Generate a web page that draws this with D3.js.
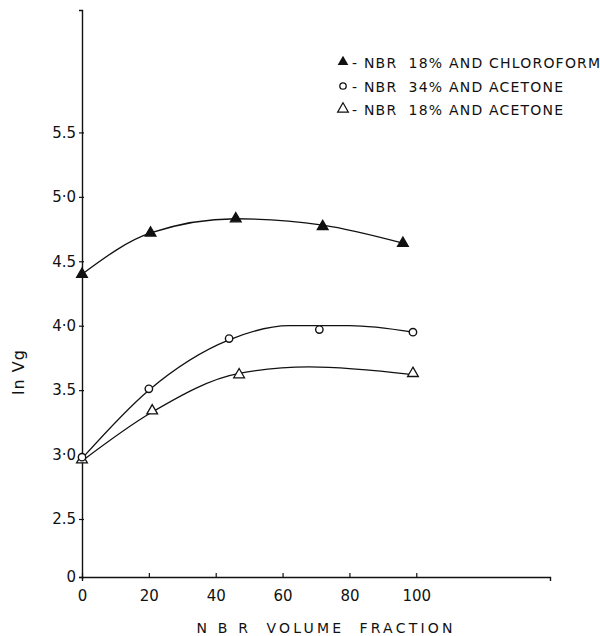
<!DOCTYPE html>
<html>
<head>
<meta charset="utf-8">
<script src="https://cdn.jsdelivr.net/npm/d3@7"></script>
<style>
  body { margin: 0; background: #fff; }
  svg text { font-family: "DejaVu Sans", sans-serif; fill: #111; }
</style>
</head>
<body>
<svg id="chart" width="600" height="636"></svg>
<script>
// data (NBR volume fraction, ln Vg)
var chloroX = [0, 20.5, 46, 72, 96];
var chloroY = [4.40, 4.72, 4.83, 4.77, 4.64];
var ace34X = [0, 20, 44, 71, 99];
var ace34Y = [2.98, 3.51, 3.90, 3.97, 3.95];
var ace18X = [0, 21, 47, 99];
var ace18Y = [2.96, 3.34, 3.62, 3.63];

// hand drawn fitted curves, knots
var chloroFitX = [0, 20.5, 46, 72, 96];
var chloroFitY = [4.40, 4.72, 4.83, 4.78, 4.64];
var ace34FitX = [0, 20, 44, 62, 80, 99];
var ace34FitY = [2.97, 3.50, 3.89, 4.00, 4.00, 3.95];
var ace18FitX = [0, 21, 47, 68, 99];
var ace18FitY = [2.95, 3.33, 3.63, 3.68, 3.62];

var xTicks = [0, 20, 40, 60, 80, 100];
var yTicks = [0, 2.5, 3.0, 3.5, 4.0, 4.5, 5.0, 5.5];
var yTickLabels = ['0', '2.5', '3\u00b70', '3.5', '4\u00b70', '4.5', '5\u00b70', '5.5'];

var legendLabels = ['- NBR  18% AND CHLOROFORM', '- NBR  34% AND ACETONE', '- NBR  18% AND ACETONE'];

var svg = d3.select('#chart');

//scales: y axis is broken between 0 and 2.5
var x = d3.scaleLinear().domain([0, 140]).range([82, 550]);
var y = d3.scaleLinear().domain([0, 2.5, 6.45]).range([577, 519, 10]);

//x axis
var xAxis = svg.append('g')
    .attr('transform', 'translate(0,' + y(0) + ')')
    .call(d3.axisBottom(x).tickValues(xTicks).tickSizeOuter(0).tickSize(4).tickPadding(9));
xAxis.selectAll('.tick line').attr('y1', -4).attr('y2', 0);
xAxis.selectAll('text').style('font-size', '15px');

//y axis
var yAxis = svg.append('g')
    .attr('transform', 'translate(' + x(0) + ',0)')
    .call(d3.axisLeft(y).tickValues(yTicks).tickSizeOuter(0).tickSize(3).tickPadding(3)
        .tickFormat(function (d, i) { return yTickLabels[i]; }));
yAxis.selectAll('.tick line').attr('x1', 2);
yAxis.selectAll('text').style('font-size', '15px');
svg.selectAll('.domain').attr('stroke', '#111').attr('stroke-width', 1.4);
svg.selectAll('.tick line').attr('stroke', '#111').attr('stroke-width', 1.2);

//axis titles
svg.append('text')
    .attr('x', 326)
    .attr('y', 633)
    .attr('text-anchor', 'middle')
    .style('font-size', '14px')
    .style('letter-spacing', '3.2px')
    .style('white-space', 'pre')
    .text('N B R  VOLUME  FRACTION');
svg.append('text')
    .attr('transform', 'translate(24,372) rotate(-90)')
    .attr('text-anchor', 'middle')
    .style('font-size', '16px')
    .style('letter-spacing', '1px')
    .text('ln Vg');

//fitted curves
var line = d3.line()
    .x(function (d) { return x(d[0]); })
    .y(function (d) { return y(d[1]); })
    .curve(d3.curveMonotoneX);

[[chloroFitX, chloroFitY], [ace34FitX, ace34FitY], [ace18FitX, ace18FitY]].forEach(function (s) {
    svg.append('path')
        .datum(d3.zip(s[0], s[1]))
        .attr('d', line)
        .attr('fill', 'none')
        .attr('stroke', '#111')
        .attr('stroke-width', 1.3);
});

//markers
var tri = d3.symbol().type(d3.symbolTriangle).size(50);

function drawTriangles(xs, ys, filled) {
    svg.append('g').selectAll('path')
        .data(d3.zip(xs, ys))
        .join('path')
        .attr('d', tri)
        .attr('transform', function (d) { return 'translate(' + x(d[0]) + ',' + y(d[1]) + ')'; })
        .attr('fill', filled ? '#111' : '#fff')
        .attr('stroke', '#111')
        .attr('stroke-width', 1.3);
}
drawTriangles(ace18X, ace18Y, false);
svg.append('g').selectAll('circle')
    .data(d3.zip(ace34X, ace34Y))
    .join('circle')
    .attr('cx', function (d) { return x(d[0]); })
    .attr('cy', function (d) { return y(d[1]); })
    .attr('r', 3.7)
    .attr('fill', '#fff')
    .attr('stroke', '#111')
    .attr('stroke-width', 1.4);
drawTriangles(chloroX, chloroY, true);

//legend
var legend = svg.append('g').attr('transform', 'translate(343,0)');
var legendY = [63, 87, 110];
legend.append('path').attr('d', tri).attr('transform', 'translate(0,' + (legendY[0] - 1) + ')').attr('fill', '#111');
legend.append('circle').attr('cx', 0).attr('cy', legendY[1] - 1).attr('r', 3.2)
    .attr('fill', '#fff').attr('stroke', '#111').attr('stroke-width', 1.3);
legend.append('path').attr('d', tri).attr('transform', 'translate(0,' + (legendY[2] - 1) + ')')
    .attr('fill', '#fff').attr('stroke', '#111').attr('stroke-width', 1.2);
legend.selectAll('text.lbl')
    .data(legendLabels)
    .join('text')
    .attr('class', 'lbl')
    .attr('x', 9)
    .attr('y', function (d, i) { return legendY[i] + 5; })
    .style('font-size', '14px')
    .style('letter-spacing', '1.2px')
    .style('white-space', 'pre')
    .text(function (d) { return d; });
</script>
</body>
</html>
